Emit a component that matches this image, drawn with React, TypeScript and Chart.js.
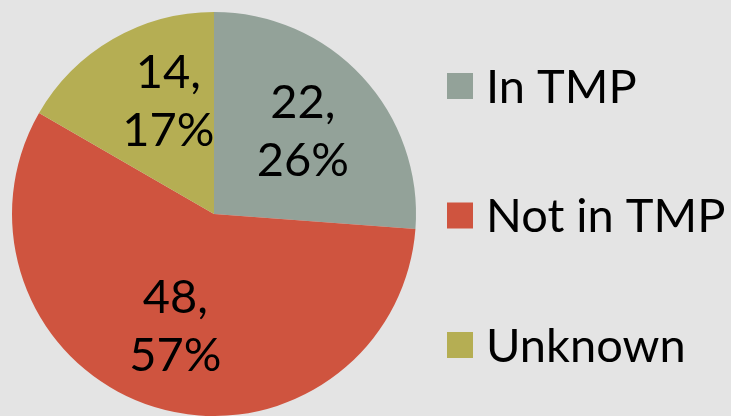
import React, { useEffect, useRef } from "react";
import { Chart, registerables } from "chart.js";

Chart.register(...registerables);

const categories = ["In TMP", "Not in TMP", "Unknown"];
const counts = [22, 48, 14];
const sliceColors = ["#93a299", "#cf543f", "#b5ae53"];

const FONT = "Lato, 'DejaVu Sans', sans-serif";

const sliceLabelPlugin = {
  id: "sliceLabels",
  afterDatasetsDraw(chart: any) {
    const meta = chart.getDatasetMeta(0);
    const data = chart.data.datasets[0].data as number[];
    const total = data.reduce((a, b) => a + b, 0);
    const nudges = [[0, -3], [-3, -6], [15, -10]];
    const ctx = chart.ctx;
    ctx.save();
    ctx.fillStyle = "#000";
    ctx.font = `47px ${FONT}`;
    ctx.textAlign = "center";
    ctx.textBaseline = "alphabetic";
    meta.data.forEach((arc: any, i: number) => {
      const p = arc.getProps(["x", "y", "startAngle", "endAngle", "outerRadius"], true);
      const mid = (p.startAngle + p.endAngle) / 2;
      const r = p.outerRadius * 0.6;
      const cx = p.x + Math.cos(mid) * r + nudges[i][0];
      const cy = p.y + Math.sin(mid) * r + nudges[i][1];
      const pct = Math.round((data[i] / total) * 100);
      ctx.fillText(`${data[i]},`, cx, cy - 11);
      ctx.fillText(`${pct}%`, cx, cy + 47);
    });
    ctx.restore();
  },
};

const legendPlugin = {
  id: "sideLegend",
  afterDraw(chart: any) {
    const ctx = chart.ctx;
    const labels = chart.data.labels as string[];
    const colors = chart.data.datasets[0].backgroundColor as string[];
    const boxX = chart.chartArea.right + 30;
    const textX = boxX + 39;
    const firstRow = 86;
    const rowGap = 129.5;
    ctx.save();
    ctx.font = `47px ${FONT}`;
    ctx.textAlign = "left";
    ctx.textBaseline = "alphabetic";
    labels.forEach((lab, i) => {
      const cy = firstRow + i * rowGap;
      ctx.fillStyle = colors[i];
      ctx.fillRect(boxX, cy - 13, 26, 26);
      ctx.fillStyle = "#000";
      ctx.fillText(lab, textX, cy + 16.5);
    });
    ctx.restore();
  },
};

export default function App() {
  const ref = useRef<HTMLCanvasElement>(null);
  useEffect(() => {
    document.body.style.margin = "0";
    const chart = new Chart(ref.current!, {
      type: "pie",
      data: {
        labels: categories,
        datasets: [
          {
            data: counts,
            backgroundColor: sliceColors,
            borderWidth: 0,
          },
        ],
      },
      options: {
        animation: false,
        responsive: false,
        layout: { padding: { left: 11, top: 12, right: 314, bottom: 0 } },
        plugins: { legend: { display: false }, tooltip: { enabled: false } },
      },
      plugins: [sliceLabelPlugin, legendPlugin],
    });
    return () => chart.destroy();
  }, []);
  return (
    <div style={{ width: 731, height: 416, background: "#e4e4e4" }}>
      <canvas ref={ref} width={731} height={416} style={{ display: "block" }} />
    </div>
  );
}
